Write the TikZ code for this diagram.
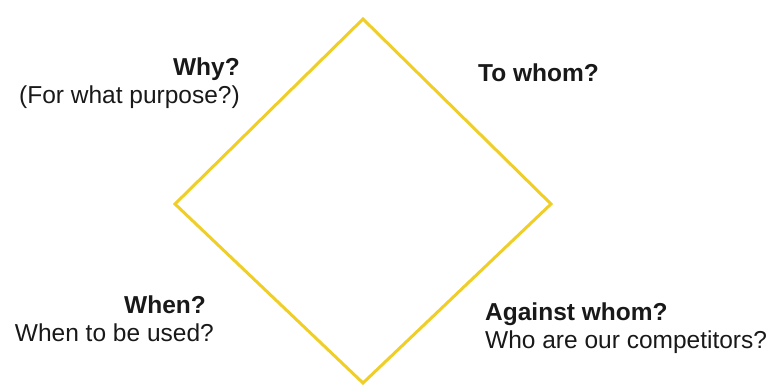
\documentclass[tikz,border=0pt]{standalone}
\usepackage{fontspec}
\setmainfont{Liberation Sans}
\definecolor{diamondyellow}{RGB}{240,206,40}
\definecolor{txt}{RGB}{25,25,25}
\begin{document}
\begin{tikzpicture}[x=1pt,y=-1pt,
  lbl/.style={inner sep=0pt,text=txt,font=\fontsize{24.5}{29}\selectfont},
  head/.style={lbl,font=\fontsize{24.5}{29}\selectfont\bfseries},
  edge/.style={draw=diamondyellow,line width=3pt,line join=miter}]
\useasboundingbox (0,0) rectangle (774,385);
\coordinate (top) at (363,19);
\coordinate (right) at (551,204);
\coordinate (bottom) at (363,383);
\coordinate (left) at (175,204);
\draw[edge] (top) -- (right) -- (bottom) -- (left) -- cycle;
\node[head,anchor=base east] (why) at (240,76) {Why?};
\node[lbl,anchor=base east] (whysub) at (240,104) {(For what purpose?)};
\node[head,anchor=base west] (towhom) at (478,82) {To whom?};
\node[head,anchor=base east] (when) at (206,313) {When?};
\node[lbl,anchor=base east] (whensub) at (214,341) {When to be used?};
\node[head,anchor=base west] (against) at (485,320) {Against whom?};
\node[lbl,anchor=base west] (againstsub) at (485,348) {Who are our competitors?};
\end{tikzpicture}
\end{document}
